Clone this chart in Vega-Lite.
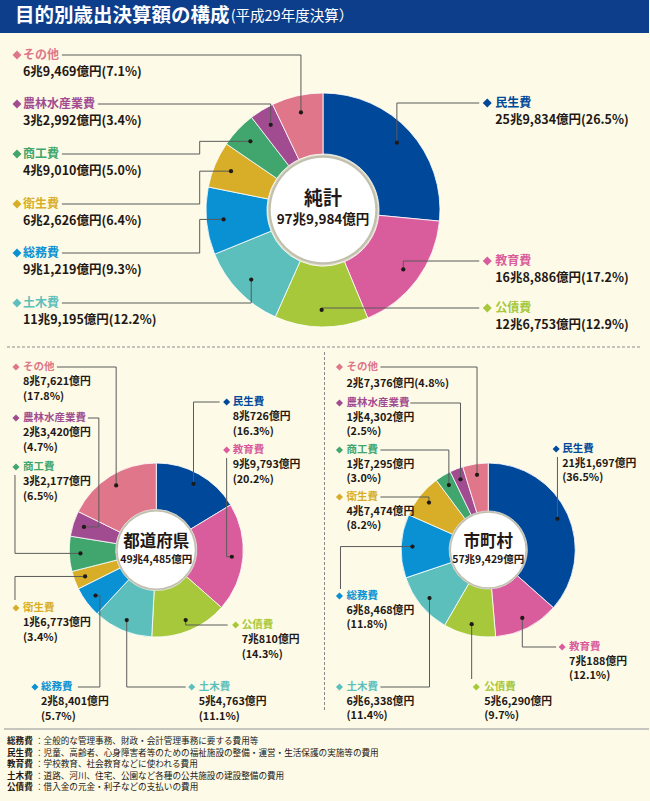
{
  "$schema": "https://vega.github.io/schema/vega-lite/v6.json",
  "width": 650,
  "height": 801,
  "autosize": {"type": "fit", "contains": "padding"},
  "padding": 0,
  "background": "#fdfbe7",
  "config": {"view": {"stroke": null}, "font": "Noto Sans CJK JP", "text": {"font": "Noto Sans CJK JP"}},
  "datasets": {
    "spend": [
      {"panel": "純計", "cat": "民生費", "amt": 259834, "pct": 26.5},
      {"panel": "純計", "cat": "教育費", "amt": 168886, "pct": 17.2},
      {"panel": "純計", "cat": "公債費", "amt": 126753, "pct": 12.9},
      {"panel": "純計", "cat": "土木費", "amt": 119195, "pct": 12.2},
      {"panel": "純計", "cat": "総務費", "amt": 91219, "pct": 9.3},
      {"panel": "純計", "cat": "衛生費", "amt": 62626, "pct": 6.4},
      {"panel": "純計", "cat": "商工費", "amt": 49010, "pct": 5.0},
      {"panel": "純計", "cat": "農林水産業費", "amt": 32992, "pct": 3.4},
      {"panel": "純計", "cat": "その他", "amt": 69469, "pct": 7.1},
      {"panel": "都道府県", "cat": "民生費", "amt": 80726, "pct": 16.3},
      {"panel": "都道府県", "cat": "教育費", "amt": 99793, "pct": 20.2},
      {"panel": "都道府県", "cat": "公債費", "amt": 70810, "pct": 14.3},
      {"panel": "都道府県", "cat": "土木費", "amt": 54763, "pct": 11.1},
      {"panel": "都道府県", "cat": "総務費", "amt": 28401, "pct": 5.7},
      {"panel": "都道府県", "cat": "衛生費", "amt": 16773, "pct": 3.4},
      {"panel": "都道府県", "cat": "商工費", "amt": 32177, "pct": 6.5},
      {"panel": "都道府県", "cat": "農林水産業費", "amt": 23420, "pct": 4.7},
      {"panel": "都道府県", "cat": "その他", "amt": 87621, "pct": 17.8},
      {"panel": "市町村", "cat": "民生費", "amt": 211697, "pct": 36.5},
      {"panel": "市町村", "cat": "教育費", "amt": 70188, "pct": 12.1},
      {"panel": "市町村", "cat": "公債費", "amt": 56290, "pct": 9.7},
      {"panel": "市町村", "cat": "土木費", "amt": 66338, "pct": 11.4},
      {"panel": "市町村", "cat": "総務費", "amt": 68468, "pct": 11.8},
      {"panel": "市町村", "cat": "衛生費", "amt": 47474, "pct": 8.2},
      {"panel": "市町村", "cat": "商工費", "amt": 17295, "pct": 3.0},
      {"panel": "市町村", "cat": "農林水産業費", "amt": 14302, "pct": 2.5},
      {"panel": "市町村", "cat": "その他", "amt": 27376, "pct": 4.8}
    ],
    "totals": [
      {"panel": "純計", "total": 979984},
      {"panel": "都道府県", "total": 494485},
      {"panel": "市町村", "total": 579429}
    ],
    "notes": [
      {"term": "総務費", "desc": "全般的な管理事務、財政・会計管理事務に要する費用等"},
      {"term": "民生費", "desc": "児童、高齢者、心身障害者等のための福祉施設の整備・運営・生活保護の実施等の費用"},
      {"term": "教育費", "desc": "学校教育、社会教育などに使われる費用"},
      {"term": "土木費", "desc": "道路、河川、住宅、公園など各種の公共施設の建設整備の費用"},
      {"term": "公債費", "desc": "借入金の元金・利子などの支払いの費用"}
    ]
  },
  "layer": [
    {
      "data": {"values": [{}]},
      "mark": {"type": "rect", "color": "#0c3e8c"},
      "encoding": {
        "x": {"datum": 0, "type": "quantitative", "scale": {"domain": [0, 650], "nice": false, "zero": false}, "axis": null},
        "x2": {"datum": 650},
        "y": {"datum": 0, "type": "quantitative", "scale": {"domain": [0, 801], "reverse": true, "nice": false, "zero": false}, "axis": null},
        "y2": {"datum": 33}
      }
    },
    {
      "data": {"values": [{"t": "目的別歳出決算額の構成", "s": "(平成29年度決算）"}]},
      "layer": [
        {
          "mark": {"type": "text", "align": "left", "baseline": "middle", "fontSize": 19.5, "fontWeight": "bold", "color": "white"},
          "encoding": {
            "x": {"datum": 15, "type": "quantitative", "scale": {"domain": [0, 650], "nice": false, "zero": false}, "axis": null},
            "y": {"datum": 16, "type": "quantitative", "scale": {"domain": [0, 801], "reverse": true, "nice": false, "zero": false}, "axis": null},
            "text": {"field": "t"}
          }
        },
        {
          "mark": {"type": "text", "align": "left", "baseline": "middle", "fontSize": 14.5, "color": "white"},
          "encoding": {
            "x": {"datum": 231, "type": "quantitative", "scale": {"domain": [0, 650], "nice": false, "zero": false}, "axis": null},
            "y": {"datum": 17, "type": "quantitative", "scale": {"domain": [0, 801], "reverse": true, "nice": false, "zero": false}, "axis": null},
            "text": {"field": "s"}
          }
        }
      ]
    },
    {
      "data": {"values": [{}]},
      "layer": [
        {
          "mark": {"type": "rule", "stroke": "#8c8c8c", "strokeDash": [3, 2], "strokeWidth": 1},
          "encoding": {
            "x": {"datum": 7, "type": "quantitative", "scale": {"domain": [0, 650], "nice": false, "zero": false}, "axis": null},
            "x2": {"datum": 641},
            "y": {"datum": 347, "type": "quantitative", "scale": {"domain": [0, 801], "reverse": true, "nice": false, "zero": false}, "axis": null}
          }
        },
        {
          "mark": {"type": "rule", "stroke": "#8c8c8c", "strokeDash": [3, 2], "strokeWidth": 1},
          "encoding": {
            "x": {"datum": 325, "type": "quantitative", "scale": {"domain": [0, 650], "nice": false, "zero": false}, "axis": null},
            "y": {"datum": 352, "type": "quantitative", "scale": {"domain": [0, 801], "reverse": true, "nice": false, "zero": false}, "axis": null},
            "y2": {"datum": 712}
          }
        },
        {
          "mark": {"type": "rule", "stroke": "#b5b5b0", "strokeWidth": 1.5},
          "encoding": {
            "x": {"datum": 4, "type": "quantitative", "scale": {"domain": [0, 650], "nice": false, "zero": false}, "axis": null},
            "x2": {"datum": 650},
            "y": {"datum": 729, "type": "quantitative", "scale": {"domain": [0, 801], "reverse": true, "nice": false, "zero": false}, "axis": null}
          }
        }
      ]
    },
    {
      "data": {"name": "totals"},
      "transform": [
        {"calculate": "{'純計':[323.5,210,117,59],'都道府県':[156.5,550,87,43.5],'市町村':[489,550,87,42]}[datum.panel]", "as": "g"},
        {"calculate": "datum.g[0]", "as": "cx"},
        {"calculate": "datum.g[1]", "as": "cy"},
        {"calculate": "PI*pow(datum.g[2]+2.5,2)", "as": "sh"}
      ],
      "mark": {"type": "circle", "color": "#b9b6a0", "opacity": 0.45},
      "encoding": {
        "x": {"field": "cx", "type": "quantitative", "scale": {"domain": [0, 650], "nice": false, "zero": false}, "axis": null},
        "y": {"field": "cy", "type": "quantitative", "scale": {"domain": [0, 801], "reverse": true, "nice": false, "zero": false}, "axis": null},
        "size": {"field": "sh", "type": "quantitative", "scale": null}
      }
    },
    {
      "data": {"name": "spend"},
      "transform": [
        {"calculate": "indexof(['民生費','教育費','公債費','土木費','総務費','衛生費','商工費','農林水産業費','その他'], datum.cat)", "as": "o"},
        {"joinaggregate": [{"op": "sum", "field": "amt", "as": "tot"}], "groupby": ["panel"]},
        {"window": [{"op": "sum", "field": "amt", "as": "cum"}], "groupby": ["panel"], "sort": [{"field": "o", "order": "ascending"}], "frame": [null, 0]},
        {"calculate": "2*PI*(datum.cum-datum.amt)/datum.tot", "as": "t0"},
        {"calculate": "2*PI*datum.cum/datum.tot", "as": "t1"},
        {"calculate": "(datum.t0+datum.t1)/2", "as": "tm"},
        {"calculate": "{'純計':[323.5,210,117,59,100],'都道府県':[156.5,550,87,43.5,76],'市町村':[489,550,87,42,76]}[datum.panel]", "as": "g"},
        {"calculate": "datum.g[0]", "as": "cx"},
        {"calculate": "datum.g[1]", "as": "cy"},
        {"calculate": "datum.g[2]", "as": "ro"},
        {"calculate": "datum.g[3]-3", "as": "ri"},
        {"calculate": "datum.cx+datum.g[4]*sin(datum.tm)", "as": "px"},
        {"calculate": "datum.cy-datum.g[4]*cos(datum.tm)", "as": "py"},
        {"calculate": "{'純計その他':[17,23,55,null,62,55,1],'純計農林水産業費':[17,23,104,null,98,104,1],'純計商工費':[17,23,154,200,62,154,1],'純計衛生費':[17,23,204,200,62,204,1],'純計総務費':[17,23,253,200,62,253,1],'純計土木費':[17,23,303,null,62,303,1],'純計民生費':[488,496,103,null,480,103,1],'純計教育費':[488,496,261,null,480,261,1],'純計公債費':[488,496,308,null,480,308,1],'都道府県その他':[16,23,367,null,57,367,0],'都道府県農林水産業費':[16,23,418,99,88,418,0],'都道府県商工費':[16,23,467,15,null,475,0],'都道府県衛生費':[16,23,608,15,null,600,0],'都道府県民生費':[227,233,402,null,220,402,0],'都道府県教育費':[227,233,450,227,null,458,0],'都道府県公債費':[236,242,625,null,228,625,0],'都道府県総務費':[35,41,687,100,78,687,0],'都道府県土木費':[192,199,687,null,186,687,0],'市町村その他':[340,347,367,null,381,367,1],'市町村農林水産業費':[340,347,403,null,411,403,0],'市町村商工費':[340,347,450,null,381,450,0],'市町村衛生費':[340,347,497,null,381,497,0],'市町村総務費':[340,347,596,341,null,589,0],'市町村民生費':[557,563,449,null,null,457,0],'市町村教育費':[563,570,647,null,557,647,0],'市町村土木費':[340,347,687,null,381,687,0],'市町村公債費':[477,485,687,null,null,679,0]}[datum.panel+datum.cat]", "as": "L"},
        {"calculate": "datum.L[0]", "as": "qx"},
        {"calculate": "datum.L[1]", "as": "tx"},
        {"calculate": "datum.L[2]", "as": "ty"},
        {"calculate": "datum.L[3]===null?datum.px:datum.L[3]", "as": "ex"},
        {"calculate": "datum.L[4]===null?datum.ex:datum.L[4]", "as": "lx"},
        {"calculate": "datum.L[5]", "as": "ly"},
        {"calculate": "(floor(datum.amt/10000)>0?floor(datum.amt/10000)+'兆':'')+format(datum.amt%10000,',')+'億円'", "as": "at"},
        {"calculate": "'('+format(datum.pct,'.1f')+'%)'", "as": "pt"},
        {"calculate": "datum.L[6]==1?datum.at+datum.pt:datum.at+'\\n'+datum.pt", "as": "vt"},
        {"calculate": "datum.panel=='純計'?12:10.5", "as": "fsn"},
        {"calculate": "datum.panel=='純計'?12.5:10.8", "as": "fsv"},
        {"calculate": "datum.ty+(datum.panel=='純計'?17:datum.panel=='都道府県'?14.6:(datum.L[6]==1?16:14))-0.49*datum.fsv", "as": "vyt"},
        {"calculate": "datum.panel=='純計'?80:50", "as": "dsz"}
      ],
      "layer": [
        {
          "mark": {"type": "arc", "stroke": "white", "strokeWidth": 0.8},
          "encoding": {
            "x": {"field": "cx", "type": "quantitative", "scale": {"domain": [0, 650], "nice": false, "zero": false}, "axis": null},
            "y": {"field": "cy", "type": "quantitative", "scale": {"domain": [0, 801], "reverse": true, "nice": false, "zero": false}, "axis": null},
            "theta": {"field": "t0", "type": "quantitative", "scale": null, "stack": null},
            "theta2": {"field": "t1"},
            "radius": {"field": "ro", "type": "quantitative", "scale": null},
            "radius2": {"field": "ri"},
            "color": {"field": "cat", "type": "nominal", "legend": null, "scale": {"domain": ["民生費", "教育費", "公債費", "土木費", "総務費", "衛生費", "商工費", "農林水産業費", "その他"], "range": ["#00489a", "#d95c9c", "#a6c83a", "#5dbfbc", "#0a91d3", "#d8ae28", "#40a66e", "#a14c91", "#df7689"]}}
          }
        },
        {
          "mark": {"type": "rule", "stroke": "#5a5a5a", "strokeWidth": 1},
          "encoding": {
            "x": {"field": "px", "type": "quantitative", "scale": {"domain": [0, 650], "nice": false, "zero": false}, "axis": null},
            "x2": {"field": "ex"},
            "y": {"field": "py", "type": "quantitative", "scale": {"domain": [0, 801], "reverse": true, "nice": false, "zero": false}, "axis": null}
          }
        },
        {
          "mark": {"type": "rule", "stroke": "#5a5a5a", "strokeWidth": 1},
          "encoding": {
            "x": {"field": "ex", "type": "quantitative", "scale": {"domain": [0, 650], "nice": false, "zero": false}, "axis": null},
            "y": {"field": "py", "type": "quantitative", "scale": {"domain": [0, 801], "reverse": true, "nice": false, "zero": false}, "axis": null},
            "y2": {"field": "ly"}
          }
        },
        {
          "mark": {"type": "rule", "stroke": "#5a5a5a", "strokeWidth": 1},
          "encoding": {
            "x": {"field": "ex", "type": "quantitative", "scale": {"domain": [0, 650], "nice": false, "zero": false}, "axis": null},
            "x2": {"field": "lx"},
            "y": {"field": "ly", "type": "quantitative", "scale": {"domain": [0, 801], "reverse": true, "nice": false, "zero": false}, "axis": null}
          }
        },
        {
          "mark": {"type": "circle", "color": "#1e1a16", "opacity": 1, "size": 18},
          "encoding": {
            "x": {"field": "px", "type": "quantitative", "scale": {"domain": [0, 650], "nice": false, "zero": false}, "axis": null},
            "y": {"field": "py", "type": "quantitative", "scale": {"domain": [0, 801], "reverse": true, "nice": false, "zero": false}, "axis": null}
          }
        },
        {
          "mark": {"type": "point", "shape": "diamond", "filled": true, "opacity": 1},
          "encoding": {
            "x": {"field": "qx", "type": "quantitative", "scale": {"domain": [0, 650], "nice": false, "zero": false}, "axis": null},
            "y": {"field": "ty", "type": "quantitative", "scale": {"domain": [0, 801], "reverse": true, "nice": false, "zero": false}, "axis": null},
            "size": {"field": "dsz", "type": "quantitative", "scale": null},
            "color": {"field": "cat", "type": "nominal", "legend": null, "scale": {"domain": ["民生費", "教育費", "公債費", "土木費", "総務費", "衛生費", "商工費", "農林水産業費", "その他"], "range": ["#00489a", "#d95c9c", "#a6c83a", "#5dbfbc", "#0a91d3", "#d8ae28", "#40a66e", "#a14c91", "#df7689"]}}
          }
        },
        {
          "mark": {"type": "text", "align": "left", "baseline": "middle", "fontWeight": "bold"},
          "encoding": {
            "x": {"field": "tx", "type": "quantitative", "scale": {"domain": [0, 650], "nice": false, "zero": false}, "axis": null},
            "y": {"field": "ty", "type": "quantitative", "scale": {"domain": [0, 801], "reverse": true, "nice": false, "zero": false}, "axis": null},
            "text": {"field": "cat"},
            "size": {"field": "fsn", "type": "quantitative", "scale": null},
            "color": {"field": "cat", "type": "nominal", "legend": null, "scale": {"domain": ["民生費", "教育費", "公債費", "土木費", "総務費", "衛生費", "商工費", "農林水産業費", "その他"], "range": ["#00489a", "#d95c9c", "#a6c83a", "#5dbfbc", "#0a91d3", "#d8ae28", "#40a66e", "#a14c91", "#df7689"]}}
          }
        },
        {
          "mark": {"type": "text", "align": "left", "baseline": "top", "fontWeight": "bold", "color": "#231815", "lineBreak": "\n", "lineHeight": 14.4},
          "encoding": {
            "x": {"field": "tx", "type": "quantitative", "scale": {"domain": [0, 650], "nice": false, "zero": false}, "axis": null},
            "y": {"field": "vyt", "type": "quantitative", "scale": {"domain": [0, 801], "reverse": true, "nice": false, "zero": false}, "axis": null},
            "text": {"field": "vt"},
            "size": {"field": "fsv", "type": "quantitative", "scale": null}
          }
        }
      ]
    },
    {
      "data": {"name": "totals"},
      "transform": [
        {"calculate": "{'純計':[323.5,210,59,19,13.5,-11,10],'都道府県':[156.5,550,43.5,16.5,10.5,-8,10],'市町村':[489,550,42,16.5,10.5,-8,10]}[datum.panel]", "as": "g"},
        {"calculate": "datum.g[0]", "as": "cx"},
        {"calculate": "datum.g[1]", "as": "cy"},
        {"calculate": "PI*pow(datum.g[2],2)", "as": "sw"},
        {"calculate": "PI*pow(datum.g[2]+2.5,2)", "as": "ss"},
        {"calculate": "datum.g[3]", "as": "fs1"},
        {"calculate": "datum.g[4]", "as": "fs2"},
        {"calculate": "datum.cy+datum.g[5]", "as": "y1"},
        {"calculate": "datum.cy+datum.g[6]", "as": "y2"},
        {"calculate": "floor(datum.total/10000)+'兆'+format(datum.total%10000,',')+'億円'", "as": "at"}
      ],
      "layer": [
        {
          "mark": {"type": "circle", "color": "#000000", "opacity": 0.13},
          "encoding": {
            "x": {"field": "cx", "type": "quantitative", "scale": {"domain": [0, 650], "nice": false, "zero": false}, "axis": null},
            "y": {"field": "cy", "type": "quantitative", "scale": {"domain": [0, 801], "reverse": true, "nice": false, "zero": false}, "axis": null},
            "size": {"field": "ss", "type": "quantitative", "scale": null}
          }
        },
        {
          "mark": {"type": "circle", "color": "#ffffff", "opacity": 1},
          "encoding": {
            "x": {"field": "cx", "type": "quantitative", "scale": {"domain": [0, 650], "nice": false, "zero": false}, "axis": null},
            "y": {"field": "cy", "type": "quantitative", "scale": {"domain": [0, 801], "reverse": true, "nice": false, "zero": false}, "axis": null},
            "size": {"field": "sw", "type": "quantitative", "scale": null}
          }
        },
        {
          "mark": {"type": "text", "align": "center", "baseline": "middle", "fontWeight": "bold", "color": "#231815"},
          "encoding": {
            "x": {"field": "cx", "type": "quantitative", "scale": {"domain": [0, 650], "nice": false, "zero": false}, "axis": null},
            "y": {"field": "y1", "type": "quantitative", "scale": {"domain": [0, 801], "reverse": true, "nice": false, "zero": false}, "axis": null},
            "text": {"field": "panel"},
            "size": {"field": "fs1", "type": "quantitative", "scale": null}
          }
        },
        {
          "mark": {"type": "text", "align": "center", "baseline": "middle", "fontWeight": "bold", "color": "#231815"},
          "encoding": {
            "x": {"field": "cx", "type": "quantitative", "scale": {"domain": [0, 650], "nice": false, "zero": false}, "axis": null},
            "y": {"field": "y2", "type": "quantitative", "scale": {"domain": [0, 801], "reverse": true, "nice": false, "zero": false}, "axis": null},
            "text": {"field": "at"},
            "size": {"field": "fs2", "type": "quantitative", "scale": null}
          }
        }
      ]
    },
    {
      "data": {"name": "notes"},
      "transform": [
        {"aggregate": [{"op": "values", "as": "vals"}]},
        {"calculate": "join(pluck(datum.vals,'term'),'\\n')", "as": "terms"},
        {"calculate": "'：'+join(pluck(datum.vals,'desc'),'\\n：')", "as": "descs"}
      ],
      "layer": [
        {
          "mark": {"type": "text", "align": "left", "baseline": "top", "fontSize": 8.6, "fontWeight": "bold", "color": "#231815", "lineBreak": "\n", "lineHeight": 11.5},
          "encoding": {
            "x": {"datum": 7, "type": "quantitative", "scale": {"domain": [0, 650], "nice": false, "zero": false}, "axis": null},
            "y": {"datum": 737.3, "type": "quantitative", "scale": {"domain": [0, 801], "reverse": true, "nice": false, "zero": false}, "axis": null},
            "text": {"field": "terms"}
          }
        },
        {
          "mark": {"type": "text", "align": "left", "baseline": "top", "fontSize": 8.6, "color": "#231815", "lineBreak": "\n", "lineHeight": 11.5},
          "encoding": {
            "x": {"datum": 35, "type": "quantitative", "scale": {"domain": [0, 650], "nice": false, "zero": false}, "axis": null},
            "y": {"datum": 737.3, "type": "quantitative", "scale": {"domain": [0, 801], "reverse": true, "nice": false, "zero": false}, "axis": null},
            "text": {"field": "descs"}
          }
        }
      ]
    }
  ]
}
